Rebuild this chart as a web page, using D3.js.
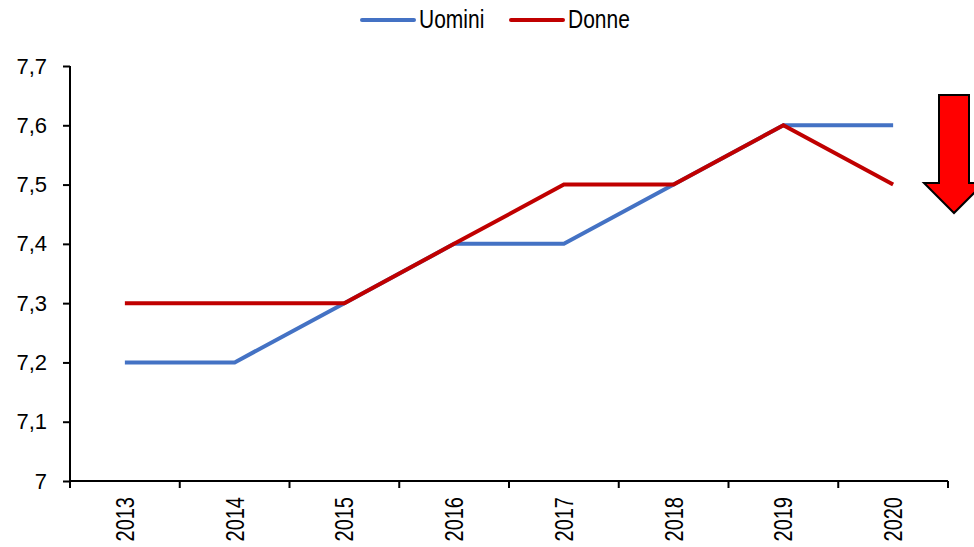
<!DOCTYPE html>
<html>
  <head>
    <meta charset="utf-8">
    <style>
      body { margin: 0; background: #fff; }
      text { font-family: "Liberation Sans", Arial, sans-serif; fill: #000; }
    </style>
    <title>Uomini / Donne</title>
  </head>
  <body>
  <div id="viz-wrapper"></div>
  <script src="https://cdnjs.cloudflare.com/ajax/libs/d3/7.8.5/d3.min.js" charset="utf-8"></script>
  <script>
    var years = ['2013', '2014', '2015', '2016', '2017', '2018', '2019', '2020'];
    var uomini = [7.2, 7.2, 7.3, 7.4, 7.4, 7.5, 7.6, 7.6];
    var donne = [7.3, 7.3, 7.3, 7.4, 7.5, 7.5, 7.6, 7.5];
    var yTicks = [7, 7.1, 7.2, 7.3, 7.4, 7.5, 7.6, 7.7];

    var width = 974, height = 547;
    var mLeft = 70, mRight = 948, mTop = 66, mBottom = 481;

    var svg = d3.select('#viz-wrapper').append('svg')
      .attr('width', width)
      .attr('height', height);

    var x = d3.scaleBand().domain(years).range([mLeft, mRight]);
    var y = d3.scaleLinear().domain([7, 7.7]).range([mBottom, mTop]);

    // y axis
    var yAxis = svg.append('g')
      .attr('transform', 'translate(' + mLeft + ',0)')
      .call(d3.axisLeft(y).tickValues(yTicks).tickSize(7).tickPadding(16)
        .tickFormat(function(d) { return d3.format('.1~f')(d).replace('.', ','); }));
    yAxis.select('.domain').attr('stroke', '#000').attr('stroke-width', 2)
      .attr('d', 'M0,' + mTop + 'V' + mBottom);
    yAxis.selectAll('.tick line').attr('stroke', '#000').attr('stroke-width', 2);
    yAxis.selectAll('.tick text')
      .style('font-size', '22px')
      .style('font-family', '"Liberation Sans", Arial, sans-serif');

    // x axis with ticks between the categories
    var xg = svg.append('g').attr('transform', 'translate(0,' + mBottom + ')');
    xg.append('line').attr('x1', mLeft).attr('x2', mRight)
      .attr('stroke', '#000').attr('stroke-width', 2);
    var bounds = years.map(function(d) { return x(d); }).concat([mRight]);
    xg.selectAll('line.tk').data(bounds).enter().append('line')
      .attr('class', 'tk')
      .attr('x1', function(d) { return d; }).attr('x2', function(d) { return d; })
      .attr('y1', 0).attr('y2', 7)
      .attr('stroke', '#000').attr('stroke-width', 2);
    // year labels are narrow in the original: squeeze them along the text direction
    xg.selectAll('text').data(years).enter().append('text')
      .attr('transform', function(d) {
        return 'translate(' + (x(d) + x.bandwidth() / 2 + 9) + ',16) rotate(-90) scale(0.8,1)';
      })
      .attr('text-anchor', 'end')
      .style('font-size', '25px')
      .text(function(d) { return d; });

    var line = d3.line()
      .x(function(d, i) { return x(years[i]) + x.bandwidth() / 2; })
      .y(function(d) { return y(d); });

    svg.append('path').datum(uomini)
      .attr('d', line).attr('fill', 'none')
      .attr('stroke', '#4472c4').attr('stroke-width', 4);
    svg.append('path').datum(donne)
      .attr('d', line).attr('fill', 'none')
      .attr('stroke', '#c00000').attr('stroke-width', 4);

    // legend (text is tall and narrow too)
    var legend = [['Uomini', '#4472c4', 362], ['Donne', '#c00000', 511]];
    legend.forEach(function(l) {
      svg.append('line').attr('x1', l[2]).attr('x2', l[2] + 52)
        .attr('y1', 20).attr('y2', 20)
        .attr('stroke', l[1]).attr('stroke-width', 4).attr('stroke-linecap', 'round');
      svg.append('text')
        .attr('transform', 'translate(' + (l[2] + 57) + ',28) scale(0.84,1)')
        .style('font-size', '25px').text(l[0]);
    });

    // red arrow
    var ax = 954;
    svg.append('path')
      .attr('d', 'M' + (ax - 15) + ',95 H' + (ax + 15) + ' V183 H' + (ax + 30) +
        ' L' + ax + ',213 L' + (ax - 30) + ',183 H' + (ax - 15) + ' Z')
      .attr('fill', '#ff0000').attr('stroke', '#000').attr('stroke-width', 2)
      .attr('stroke-linejoin', 'miter');
  </script>
  </body>
</html>
